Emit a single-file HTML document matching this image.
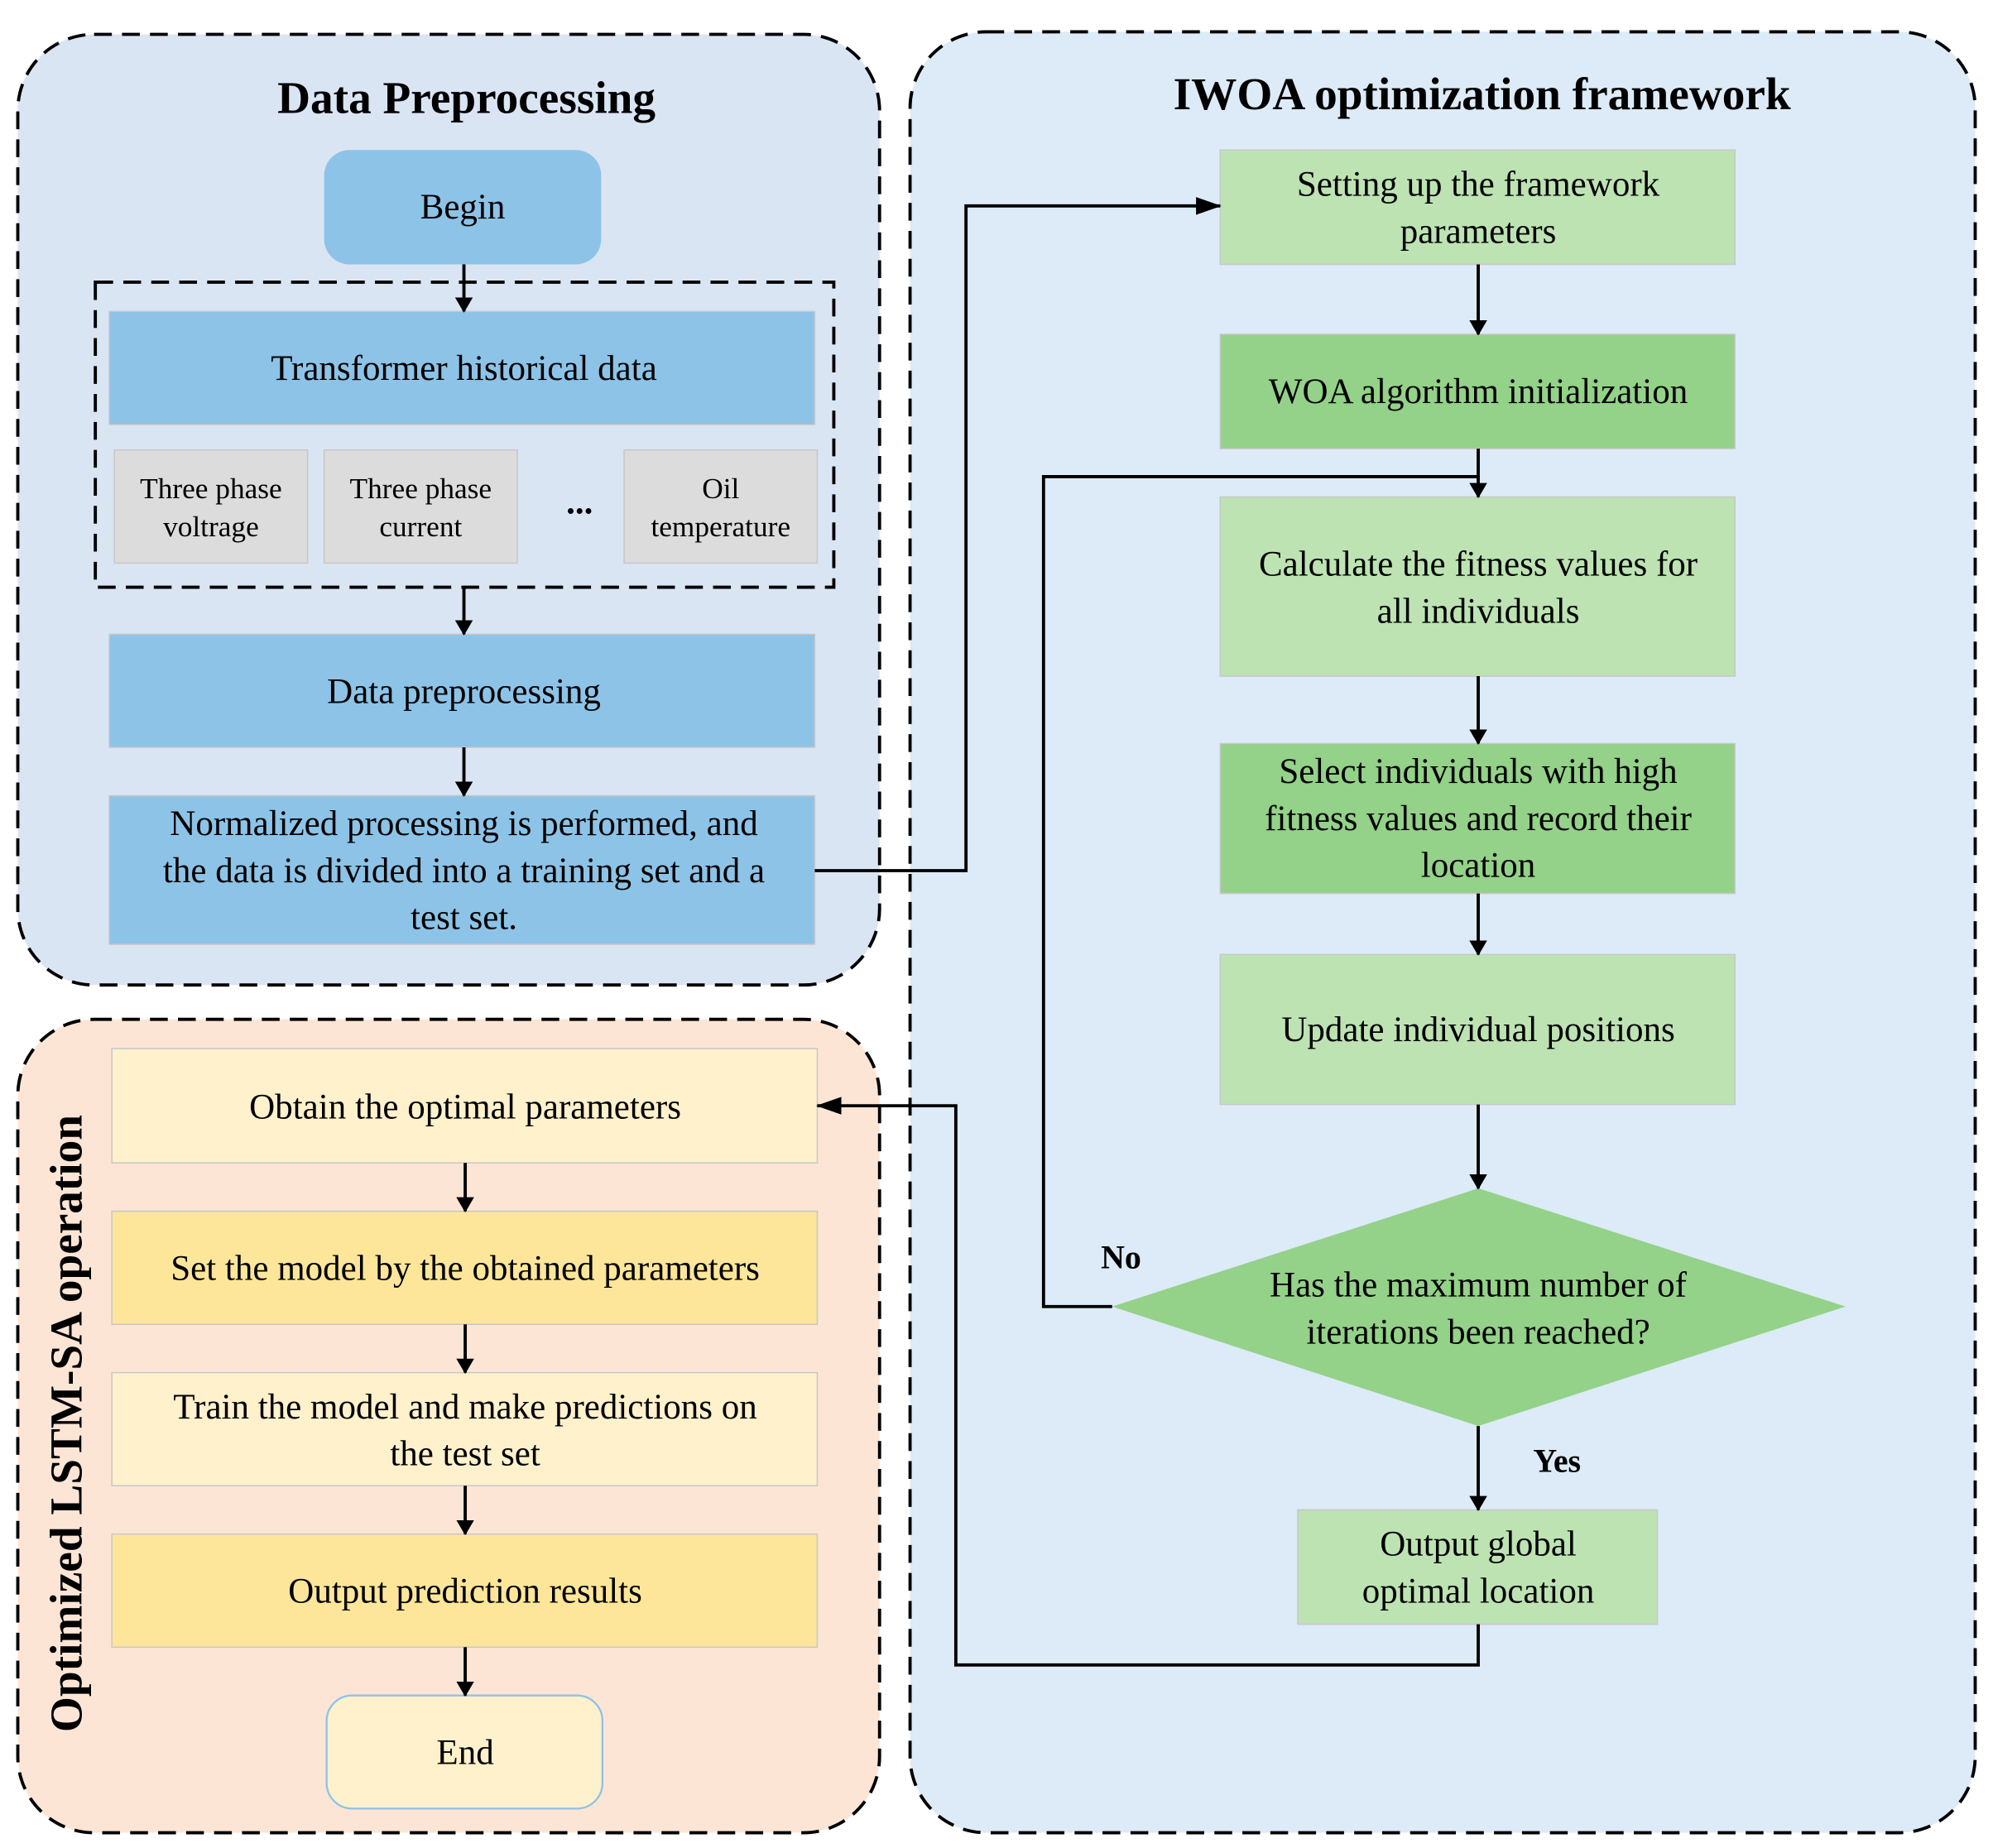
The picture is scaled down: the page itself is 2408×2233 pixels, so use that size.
<!DOCTYPE html>
<html><head><meta charset="utf-8"><style>
html,body{margin:0;padding:0;background:#fff;}
svg{display:block;}
svg text{font-family:"Liberation Serif","Times New Roman","DejaVu Serif",serif !important;fill:#000;}
</style></head><body>
<svg width="2408" height="2233" viewBox="0 0 1568 1454" xmlns="http://www.w3.org/2000/svg" font-family="Liberation Serif, serif">
<defs>
<marker id="a" markerWidth="12" markerHeight="14" refX="11" refY="7" orient="auto" markerUnits="userSpaceOnUse" viewBox="0 0 12 14">
<path d="M0,0 L12,7 L0,14 z" fill="#000"/></marker>
<marker id="b" markerWidth="20" markerHeight="14" refX="19" refY="7" orient="auto" markerUnits="userSpaceOnUse" viewBox="0 0 20 14">
<path d="M0,0 L20,7 L0,14 z" fill="#000"/></marker>
</defs>
<rect x="14" y="27" width="678" height="748" rx="60" fill="#dae5f4" stroke="#000" stroke-width="2.5" stroke-dasharray="14,8"/>
<rect x="716" y="25" width="838" height="1417" rx="60" fill="#dcebf7" stroke="#000" stroke-width="2.5" stroke-dasharray="14,8"/>
<rect x="14" y="802" width="678" height="640" rx="60" fill="#fde5d6" stroke="#000" stroke-width="2.5" stroke-dasharray="14,8"/>
<text x="367" y="89" font-size="36" font-weight="bold" text-anchor="middle">Data Preprocessing</text>
<text x="1166" y="86" font-size="36" font-weight="bold" text-anchor="middle">IWOA optimization framework</text>
<text transform="translate(64,1120) rotate(-90)" font-size="36" font-weight="bold" text-anchor="middle">Optimized LSTM-SA operation</text>

<g font-size="28" text-anchor="middle">
<rect x="255" y="118" width="218" height="90" rx="20" fill="#8dc3e7"/>
<text x="364" y="172">Begin</text>
<rect x="75" y="222" width="581" height="240" fill="none" stroke="#000" stroke-width="2.5" stroke-dasharray="14,8"/>
<rect x="86" y="245" width="555" height="89" fill="#8dc3e7" stroke="#c8c8c8"/>
<text x="365" y="299">Transformer historical data</text>
<g font-size="23">
<rect x="90" y="354" width="152" height="89" fill="#dcdcdc" stroke="#c8c8c8"/>
<text x="166" y="392">Three phase</text><text x="166" y="422">voltrage</text>
<rect x="255" y="354" width="152" height="89" fill="#dcdcdc" stroke="#c8c8c8"/>
<text x="331" y="392">Three phase</text><text x="331" y="422">current</text>
<rect x="491" y="354" width="152" height="89" fill="#dcdcdc" stroke="#c8c8c8"/>
<text x="567" y="392">Oil</text><text x="567" y="422">temperature</text>
</g>
<text x="456" y="404" font-weight="bold">...</text>
<rect x="86" y="499" width="555" height="89" fill="#8dc3e7" stroke="#c8c8c8"/>
<text x="365" y="553">Data preprocessing</text>
<rect x="86" y="626" width="555" height="117" fill="#8dc3e7" stroke="#c8c8c8"/>
<text x="365" y="657">Normalized processing is performed, and</text>
<text x="365" y="694">the data is divided into a training set and a</text>
<text x="365" y="731">test set.</text>

<rect x="960" y="118" width="405" height="90" fill="#bde3b3" stroke="#c8c8c8"/>
<text x="1163" y="154">Setting up the framework</text><text x="1163" y="191">parameters</text>
<rect x="960" y="263" width="405" height="90" fill="#94d189" stroke="#c8c8c8"/>
<text x="1163" y="317">WOA algorithm initialization</text>
<rect x="960" y="391" width="405" height="141" fill="#bde3b3" stroke="#c8c8c8"/>
<text x="1163" y="453">Calculate the fitness values for</text><text x="1163" y="490">all individuals</text>
<rect x="960" y="585" width="405" height="118" fill="#94d189" stroke="#c8c8c8"/>
<text x="1163" y="616">Select individuals with high</text><text x="1163" y="653">fitness values and record their</text><text x="1163" y="690">location</text>
<rect x="960" y="751" width="405" height="118" fill="#bde3b3" stroke="#c8c8c8"/>
<text x="1163" y="819">Update individual positions</text>
<polygon points="875,1028 1163,935 1452,1028 1163,1122" fill="#94d189"/>
<text x="1163" y="1020">Has the maximum number of</text><text x="1163" y="1057">iterations been reached?</text>
<rect x="1021" y="1188" width="283" height="90" fill="#bde3b3" stroke="#c8c8c8"/>
<text x="1163" y="1224">Output global</text><text x="1163" y="1261">optimal location</text>

<rect x="88" y="825" width="555" height="90" fill="#fff1cc" stroke="#c8c8c8"/>
<text x="366" y="880">Obtain the optimal parameters</text>
<rect x="88" y="953" width="555" height="89" fill="#fde69a" stroke="#c8c8c8"/>
<text x="366" y="1007">Set the model by the obtained parameters</text>
<rect x="88" y="1080" width="555" height="89" fill="#fff1cc" stroke="#c8c8c8"/>
<text x="366" y="1116">Train the model and make predictions on</text><text x="366" y="1153">the test set</text>
<rect x="88" y="1207" width="555" height="89" fill="#fde69a" stroke="#c8c8c8"/>
<text x="366" y="1261">Output prediction results</text>
<rect x="257" y="1334" width="217" height="89" rx="20" fill="#fff1cc" stroke="#8dc3e7" stroke-width="1.5"/>
<text x="366" y="1388">End</text>
</g>
<text x="882" y="998" font-size="26" font-weight="bold" text-anchor="middle">No</text>
<text x="1225" y="1158" font-size="26" font-weight="bold" text-anchor="middle">Yes</text>

<g stroke="#000" stroke-width="2.5" fill="none" marker-end="url(#a)">
<line x1="365" y1="208" x2="365" y2="245"/>
<line x1="365" y1="462" x2="365" y2="499"/>
<line x1="365" y1="588" x2="365" y2="626"/>
<polyline points="641,685 760,685 760,162 960,162" marker-end="url(#b)"/>
<line x1="1163" y1="208" x2="1163" y2="263"/>
<line x1="1163" y1="353" x2="1163" y2="391"/>
<line x1="1163" y1="532" x2="1163" y2="585"/>
<line x1="1163" y1="703" x2="1163" y2="751"/>
<line x1="1163" y1="869" x2="1163" y2="935"/>
<line x1="1163" y1="1122" x2="1163" y2="1188"/>
<polyline points="875,1028 821,1028 821,375 1163,375" marker-end="none"/>
<polyline points="1163,1278 1163,1310 752,1310 752,870 643,870" marker-end="url(#b)"/>
<line x1="366" y1="915" x2="366" y2="953"/>
<line x1="366" y1="1042" x2="366" y2="1080"/>
<line x1="366" y1="1169" x2="366" y2="1207"/>
<line x1="366" y1="1296" x2="366" y2="1334"/>
</g>
</svg>
</body></html>
